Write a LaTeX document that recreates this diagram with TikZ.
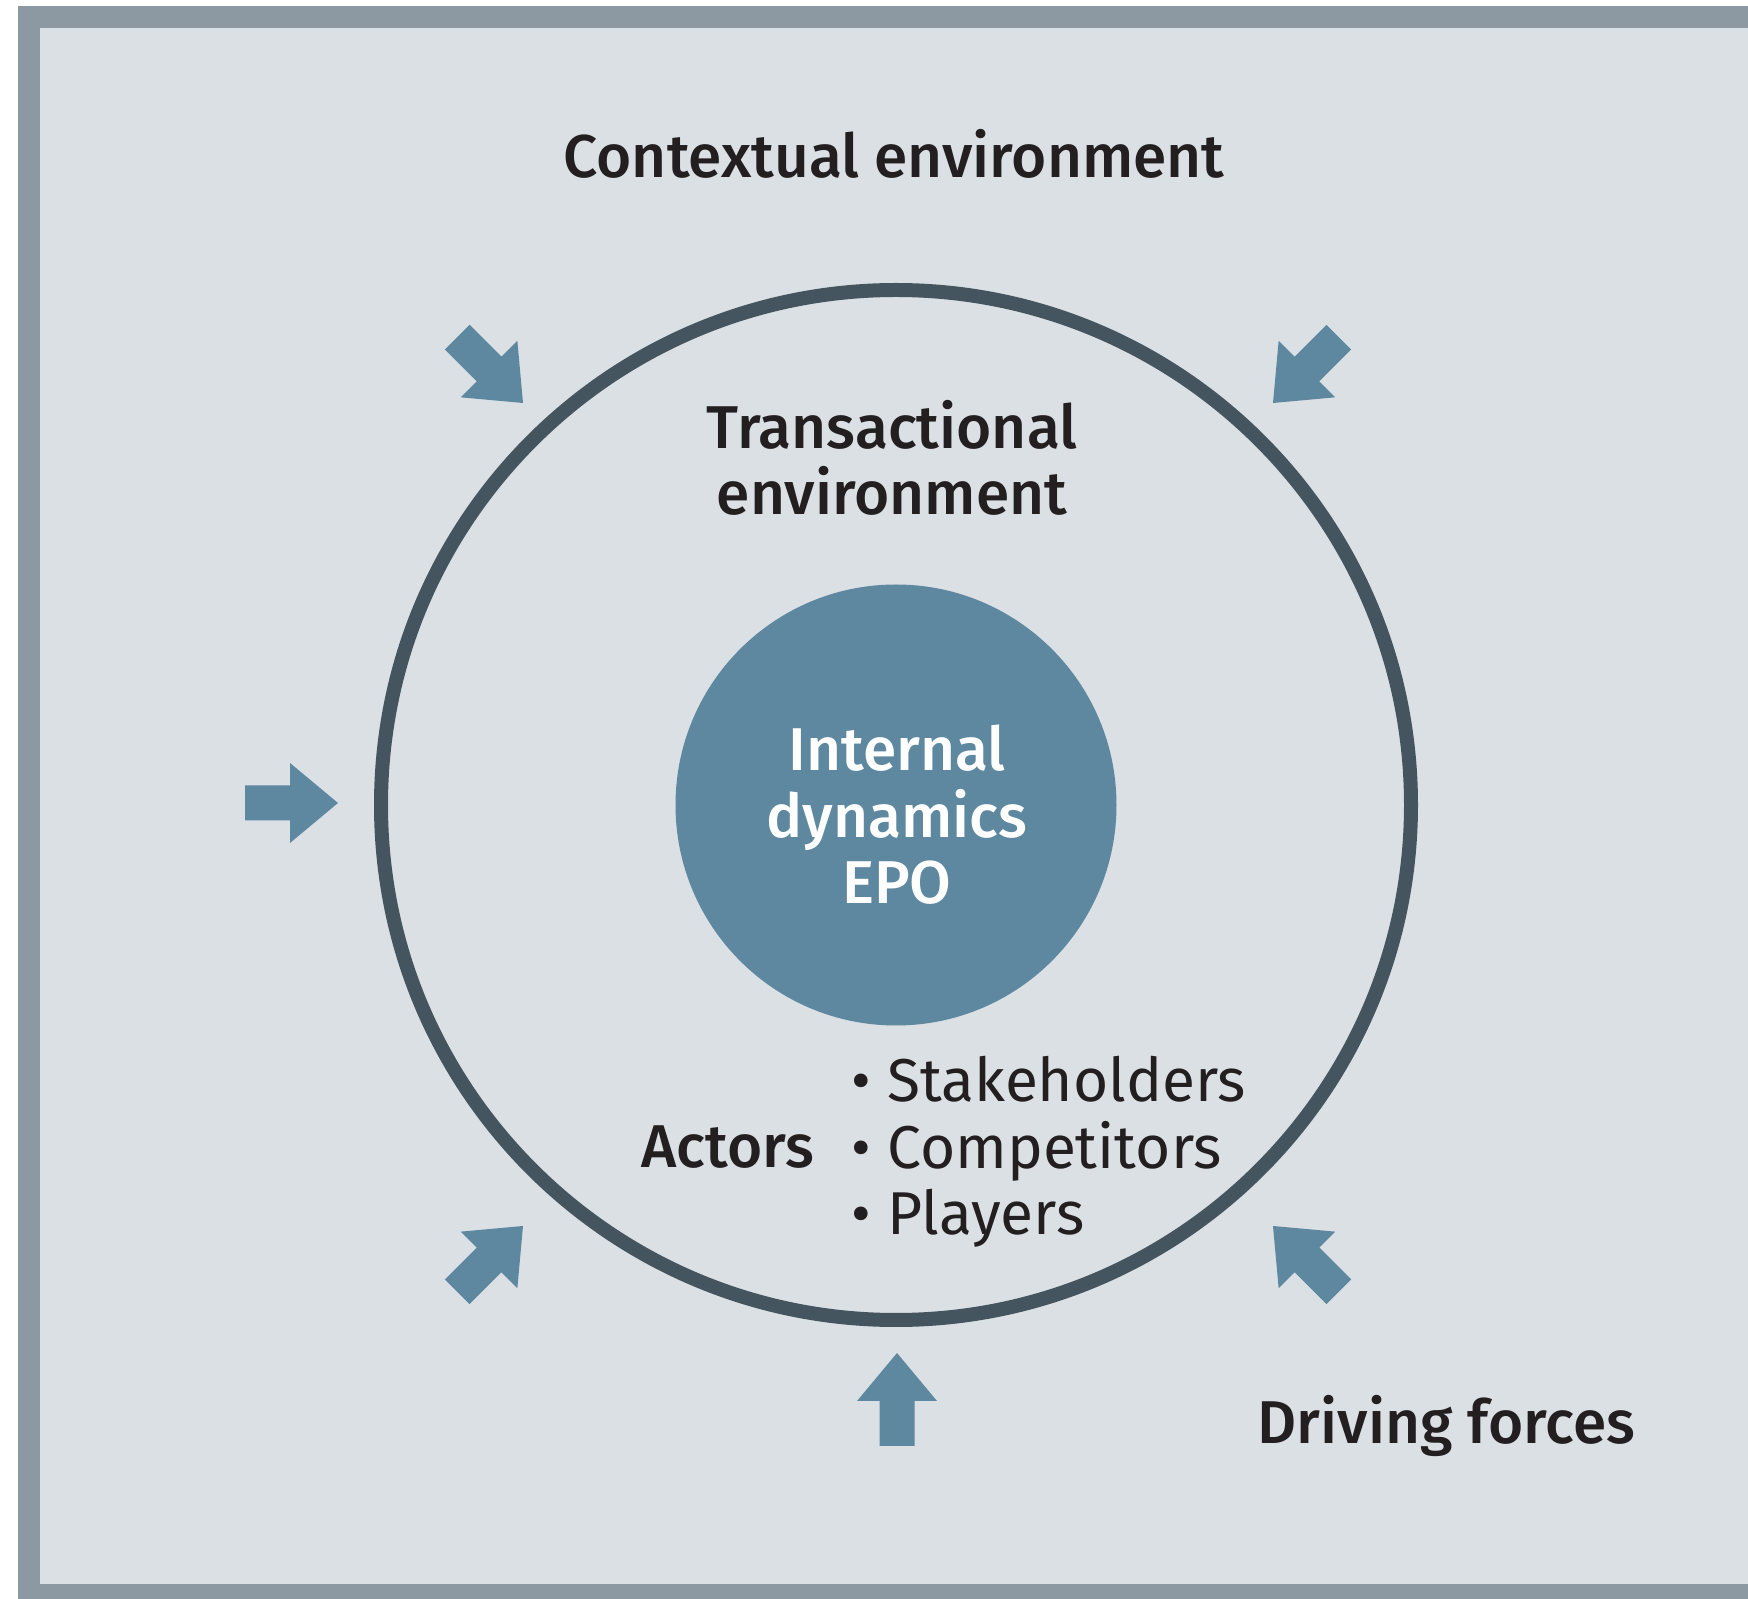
\documentclass[tikz,border=0pt]{standalone}
\usepackage{fontspec}
\setmainfont{Fira Sans}[BoldFont={Fira Sans Medium}]
\usetikzlibrary{positioning}

\definecolor{framegray}{HTML}{8C99A2}
\definecolor{panelgray}{HTML}{DAE0E4}
\definecolor{ringgray}{HTML}{45555F}
\definecolor{epoblue}{HTML}{5D88A0}
\definecolor{inkblack}{HTML}{231F20}

\tikzset{
  heading/.style={font=\fontsize{17.2}{19}\selectfont\bfseries, text=inkblack, inner sep=0pt, align=center},
  items/.style={font=\fontsize{17.2}{19}\selectfont, text=inkblack, inner sep=0pt, align=left},
  force/.style={fill=epoblue}
}

\begin{document}
\begin{tikzpicture}
\useasboundingbox (0,0) rectangle (17.48,15.98);
\clip (0,0) rectangle (17.48,15.98);

% frame and background
\fill[framegray] (0.18,-1) rectangle (18.5,15.92);
\fill[panelgray] (0.40,0.14) rectangle (18.5,15.70);

\coordinate (ctr) at (8.96,7.93);

\node[circle, draw=ringgray, line width=0.14cm, minimum size=10.30cm, inner sep=0pt] (transact) at (ctr) {};
\node[circle, fill=epoblue, minimum size=4.41cm, inner sep=0pt] (epo) at (ctr) {};

% base of a multi-line node sits on its last line
\node[heading, anchor=base] (context) at (8.94,14.20) {Contextual environment};
\node[heading, anchor=base] (transtext) at (8.92,10.83) {Transactional\\environment};
\node[heading, anchor=base, text=white] (epotext) at (8.97,6.94) {Internal\\dynamics\\EPO};
\node[heading, anchor=base east] (actors) at (8.15,4.30) {Actors};
\node[items, anchor=base west] (actorlist) at (8.51,3.63) {\textbullet\ Stakeholders\\\textbullet\ Competitors\\\textbullet\ Players};
\node[heading, anchor=base west] (driving) at (12.57,1.54) {Driving forces};

% driving forces pushing in
\foreach \x/\y/\a in {5.23/11.95/-45, 12.73/11.95/-135, 3.38/7.95/0,
                      5.23/3.72/45, 12.73/3.72/135, 8.97/2.45/90}
  \fill[force, shift={(\x,\y)}, rotate=\a] (0,0) -- (-0.48,0.40) -- (-0.48,0.175)
    -- (-0.93,0.175) -- (-0.93,-0.175) -- (-0.48,-0.175) -- (-0.48,-0.40) -- cycle;

\end{tikzpicture}
\end{document}
